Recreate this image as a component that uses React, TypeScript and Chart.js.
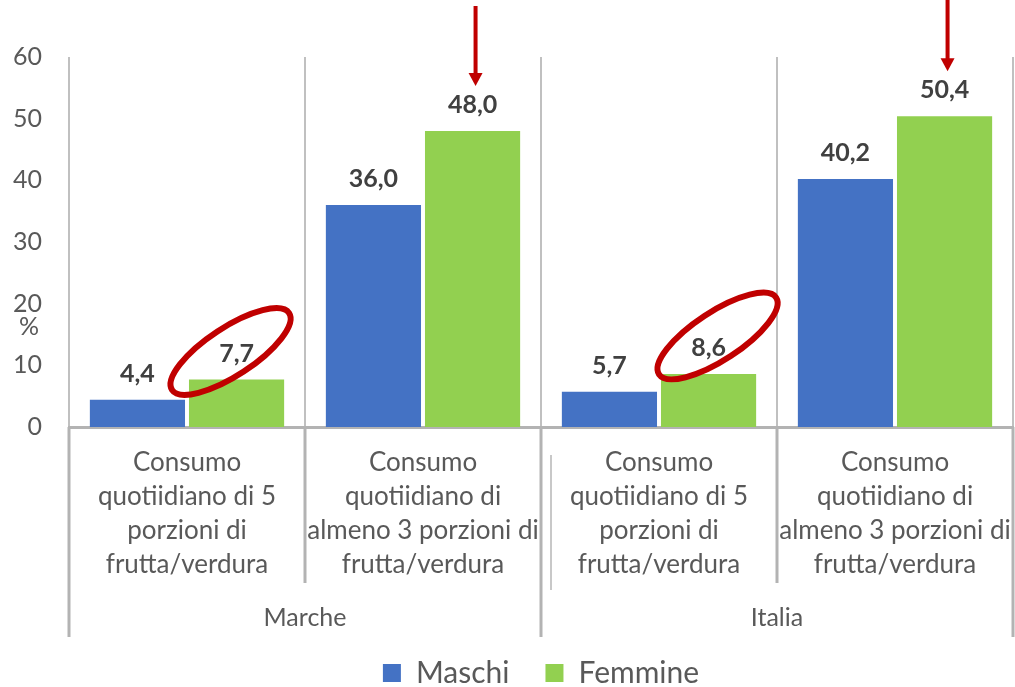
import React, { useEffect, useRef } from "react";
import { Chart, registerables } from "chart.js";

Chart.register(...registerables);

// ---- data ----
const categories: string[][] = [
  ["Consumo", "quotiidiano di 5", "porzioni di", "frutta/verdura"],
  ["Consumo", "quotiidiano di", "almeno 3 porzioni di", "frutta/verdura"],
  ["Consumo", "quotiidiano di 5", "porzioni di", "frutta/verdura"],
  ["Consumo", "quotiidiano di", "almeno 3 porzioni di", "frutta/verdura"],
];
const groups: string[] = ["Marche", "Italia"];
const seriesNames: string[] = ["Maschi", "Femmine"];
const maschi: number[] = [4.4, 36.0, 5.7, 40.2];
const femmine: number[] = [7.7, 48.0, 8.6, 50.4];
const yMin = 0;
const yMax = 60;
const yStep = 10;
const yUnit = "%";
// highlighted bars of the Femmine series
const circledIdx: number[] = [0, 2];
const arrowIdx: number[] = [1, 3];

const BLUE = "#4472C4";
const GREEN = "#92D050";
const RED = "#C00000";
const AXIS_TEXT = "#595959";
const FONT = "Lato";

const fmt = (v: number) => v.toFixed(1).replace(".", ",");

const overlayPlugin = {
  id: "overlay",
  afterDatasetsDraw(chart: any) {
    const ctx = chart.ctx as CanvasRenderingContext2D;
    const area = chart.chartArea;
    const xs = chart.scales.x;
    const n = categories.length;
    const step = xs.getPixelForValue(1) - xs.getPixelForValue(0);
    const boundary = (i: number) => xs.getPixelForValue(i) - step / 2;
    ctx.save();

    // separators below the axis (category / group levels)
    ctx.strokeStyle = "#b3b3b3";
    ctx.lineWidth = 3;
    for (let i = 0; i <= n; i++) {
      const x = boundary(i);
      const isGroup = i % 2 === 0;
      ctx.beginPath();
      ctx.moveTo(x, area.bottom);
      ctx.lineTo(x, area.bottom + (isGroup ? 210 : 156));
      ctx.stroke();
    }
    // faint inner line at start of second group
    ctx.strokeStyle = "#c8c8c8";
    ctx.lineWidth = 2;
    ctx.beginPath();
    ctx.moveTo(boundary(2) + 10, area.bottom + 28);
    ctx.lineTo(boundary(2) + 10, area.bottom + 163);
    ctx.stroke();

    // "%" unit label
    const ys = chart.scales.y;
    ctx.fillStyle = AXIS_TEXT;
    ctx.font = `25px ${FONT}`;
    ctx.textAlign = "center";
    ctx.textBaseline = "middle";
    ctx.fillText(yUnit, area.left - 27 - 13, ys.getPixelForValue(16.3));

    // data labels
    ctx.fillStyle = "#404040";
    ctx.font = `bold 25px ${FONT}`;
    ctx.textAlign = "center";
    ctx.textBaseline = "alphabetic";
    chart.data.datasets.forEach((ds: any, di: number) => {
      const meta = chart.getDatasetMeta(di);
      meta.data.forEach((el: any, i: number) => {
        ctx.fillText(fmt(ds.data[i]), el.x, el.y - 18);
      });
    });

    // red ellipses around selected labels
    const femMeta = chart.getDatasetMeta(1);
    ctx.strokeStyle = RED;
    ctx.lineWidth = 6;
    circledIdx.forEach((i, k) => {
      const el = femMeta.data[i];
      const cx = el.x + (k === 0 ? -6 : 9);
      const cy = el.y - 27 + (k === 0 ? -1 : -11);
      ctx.beginPath();
      ctx.ellipse(cx, cy, 70, 24, -0.58, 0, Math.PI * 2);
      ctx.stroke();
    });

    // red arrows above selected bars
    ctx.fillStyle = RED;
    arrowIdx.forEach((i) => {
      const el = femMeta.data[i];
      const x = el.x + 3;
      const tip = el.y - 45;
      ctx.fillRect(x - 2, tip - 80, 4, 68);
      ctx.beginPath();
      ctx.moveTo(x - 7, tip - 13);
      ctx.lineTo(x + 7, tip - 13);
      ctx.lineTo(x, tip);
      ctx.closePath();
      ctx.fill();
    });

    ctx.restore();
  },
};

export default function App() {
  const canvasRef = useRef<HTMLCanvasElement | null>(null);

  useEffect(() => {
    if (!canvasRef.current) return;
    const chart = new Chart(canvasRef.current, {
      type: "bar",
      data: {
        labels: categories,
        datasets: [
          {
            label: seriesNames[0],
            data: maschi,
            backgroundColor: BLUE,
            borderWidth: 0,
            categoryPercentage: 0.84,
            barPercentage: 0.96,
          },
          {
            label: seriesNames[1],
            data: femmine,
            backgroundColor: GREEN,
            borderWidth: 0,
            categoryPercentage: 0.84,
            barPercentage: 0.96,
          },
        ],
      },
      options: {
        responsive: false,
        animation: false,
        layout: { padding: { top: 57, right: 2, left: 0, bottom: 0 } },
        plugins: {
          legend: {
            position: "bottom",
            fullSize: false,
            labels: {
              boxWidth: 18,
              boxHeight: 18,
              padding: 36,
              color: AXIS_TEXT,
              font: { family: FONT, size: 30 },
            },
          },
          tooltip: { enabled: false },
        },
        scales: {
          x: {
            type: "category",
            position: "bottom",
            weight: 0,
            offset: true,
            grid: { display: true, offset: true, drawTicks: false, color: "#c0c0c0", lineWidth: 2 },
            border: { display: true, color: "#b3b3b3", width: 3 },
            ticks: {
              color: AXIS_TEXT,
              font: { family: FONT, size: 26, lineHeight: 34 / 26 },
              padding: 19,
              maxRotation: 0,
              autoSkip: false,
            },
            afterFit: (s: any) => {
              s.height = 168;
              s.paddingLeft = 0;
              s.paddingRight = 0;
            },
          },
          x2: {
            type: "category",
            labels: groups,
            position: "bottom",
            weight: 1,
            offset: true,
            grid: { display: false, drawTicks: false },
            border: { display: false },
            ticks: { color: AXIS_TEXT, font: { family: FONT, size: 25 }, padding: 8, maxRotation: 0 },
            afterFit: (s: any) => {
              s.height = 27;
              s.paddingLeft = 0;
              s.paddingRight = 0;
              // let the group labels draw past the (short) axis box
              s._computeLabelArea = () => undefined;
            },
          },
          y: {
            min: yMin,
            max: yMax,
            grid: { display: false, drawTicks: false },
            border: { display: false },
            ticks: { stepSize: yStep, color: AXIS_TEXT, font: { family: FONT, size: 25 }, padding: 27 },
            afterFit: (s: any) => {
              s.width = 69;
            },
          },
        },
      } as any,
      plugins: [overlayPlugin],
    });
    return () => chart.destroy();
  }, []);

  return (
    <div style={{ position: "fixed", left: 0, top: 0, width: 1015, height: 698, background: "#fff" }}>
      <canvas ref={canvasRef} width={1015} height={698} style={{ display: "block" }} />
    </div>
  );
}
